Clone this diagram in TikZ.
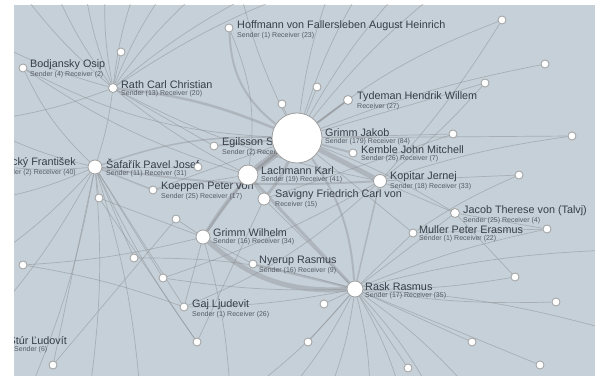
\documentclass[tikz,border=0pt]{standalone}
\usepackage{fontspec}
\setmainfont{Liberation Sans}
\usetikzlibrary{positioning}

\definecolor{canvas}{RGB}{197,208,216}
\definecolor{edgegray}{RGB}{140,142,146}
\definecolor{labeltext}{RGB}{55,62,74}

\pgfdeclarelayer{paper}
\pgfdeclarelayer{edges}
\pgfsetlayers{paper,edges,main}

\tikzset{
  person/.style={circle, draw=gray!75, fill=white, line width=0.8pt, inner sep=0pt, minimum size=8pt},
  hub/.style={person, minimum size=#1},
  nametag/.style={anchor=west, font=\fontsize{10.8}{11}\selectfont, text=labeltext, inner sep=0pt},
  counts/.style={anchor=north west, font=\fontsize{7}{7}\selectfont, text=labeltext!85, inner sep=0pt, yshift=-1.2pt},
  link/.style={draw=edgegray, opacity=0.5, line width=0.7pt},
  strong/.style={draw=edgegray, opacity=0.4, line width=#1},
}

\begin{document}
\begin{tikzpicture}[x=1pt, y=-1pt]

\useasboundingbox (0,0) rectangle (600,379);

% Paper and canvas
\begin{pgfonlayer}{paper}
\fill[white] (0,0) rectangle (600,379);
\fill[canvas] (14,5) rectangle (595,376);
\end{pgfonlayer}

\begin{scope}
\clip (14,5) rectangle (595,376);

% Labels
\node[nametag] (hoffmannL) at (237,26) {Hoffmann von Fallersleben August Heinrich};
\node[counts] at (hoffmannL.south west) {Sender (1) Receiver (23)};
\node[nametag] (bodjanskyL) at (30,65) {Bodjansky Osip};
\node[counts] at (bodjanskyL.south west) {Sender (4) Receiver (2)};
\node[nametag] (rathL) at (121,85) {Rath Carl Christian};
\node[counts] at (rathL.south west) {Sender (13) Receiver (20)};
\node[nametag] (tydemanL) at (357,97) {Tydeman Hendrik Willem};
\node[counts] at (tydemanL.south west) {Receiver (27)};
\node[nametag] (egilssonL) at (222,143) {Egilsson Sveinbjörn};
\node[counts] at (egilssonL.south west) {Sender (2) Receiver (4)};
\node[nametag] (gjakobL) at (325,133) {Grimm Jakob};
\node[counts] at (gjakobL.south west) {Sender (179) Receiver (84)};
\node[nametag] (kembleL) at (361,150) {Kemble John Mitchell};
\node[counts] at (kembleL.south west) {Sender (26) Receiver (7)};
\node[nametag, anchor=east] (palackyL) at (76,163) {Palacký František};
\node[counts, anchor=north east] at (palackyL.south east) {Sender (2) Receiver (40)};
\node[nametag] (safarikL) at (106,164) {Šafařík Pavel Josef};
\node[counts] at (safarikL.south west) {Sender (11) Receiver (31)};
\node[nametag] (lachmannL) at (261,171) {Lachmann Karl};
\node[counts] at (lachmannL.south west) {Sender (19) Receiver (41)};
\node[nametag] (kopitarL) at (390,177) {Kopitar Jernej};
\node[counts] at (kopitarL.south west) {Sender (18) Receiver (33)};
\node[nametag] (koeppenL) at (161,187) {Koeppen Peter von};
\node[counts] at (koeppenL.south west) {Sender (25) Receiver (17)};
\node[nametag] (savignyL) at (275,195) {Savigny Friedrich Carl von};
\node[counts] at (savignyL.south west) {Receiver (15)};
\node[nametag] (jacobL) at (463,211) {Jacob Therese von (Talvj)};
\node[counts] at (jacobL.south west) {Sender (25) Receiver (4)};
\node[nametag] (mullerL) at (419,230) {Muller Peter Erasmus};
\node[counts] at (mullerL.south west) {Sender (1) Receiver (22)};
\node[nametag] (gwilhelmL) at (213,233) {Grimm Wilhelm};
\node[counts] at (gwilhelmL.south west) {Sender (16) Receiver (34)};
\node[nametag] (nyerupL) at (259,261) {Nyerup Rasmus};
\node[counts] at (nyerupL.south west) {Sender (16) Receiver (9)};
\node[nametag] (raskL) at (365,287) {Rask Rasmus};
\node[counts] at (raskL.south west) {Sender (17) Receiver (35)};
\node[nametag] (gajL) at (192,305) {Gaj Ljudevit};
\node[counts] at (gajL.south west) {Sender (1) Receiver (26)};
\node[nametag, anchor=east] (sturL) at (67,340) {Štúr Ľudovít};
\node[counts, anchor=north west] at (14,345) {Sender (6)};

% Correspondents (hubs)
\node[hub=50pt] (gjakob) at (297,138) {};
\node[hub=20pt] (lachmann) at (248,175) {};
\node[hub=13pt] (kopitar) at (380,181) {};
\node[hub=12pt] (savigny) at (264,199) {};
\node[hub=14pt] (gwilhelm) at (203,237) {};
\node[hub=16pt] (rask) at (355,289) {};
\node[hub=14pt] (safarik) at (95,167) {};
\node[hub=9pt] (rath) at (113,88) {};
\node[hub=9pt] (tydeman) at (348,100) {};
\node[hub=9pt] (jacob) at (455,213) {};

% Correspondents (small)
\node[person] (bodjansky) at (23,68) {};
\node[person] (hoffmann) at (229,28) {};
\node[person] (egilsson) at (214,146) {};
\node[person] (kemble) at (353,153) {};
\node[person] (koeppen) at (153,190) {};
\node[person] (muller) at (413,233) {};
\node[person] (nyerup) at (253,264) {};
\node[person] (gaj) at (184,307) {};

% Unlabelled correspondents
\foreach \i/\x/\y in {1/121/52, 2/282/104, 3/317/87, 4/485/83, 5/545/64,
    6/502/20, 7/453/134, 8/572/136, 9/519/175, 10/198/167, 11/99/198,
    12/176/219, 13/547/229, 14/23/265, 15/134/258, 16/163/278, 17/515/277,
    18/556/302, 19/324/304, 20/197/342, 21/308/342, 22/472/342, 23/408/368,
    24/540/365, 25/53/365}
  \node[person] (s\i) at (\x,\y) {};
\end{scope}

% Edges, behind the nodes
\begin{pgfonlayer}{edges}
\begin{scope}
\clip (14,5) rectangle (595,376);

% points outside the frame
\foreach \i/\x/\y in {1/20/-10, 2/55/-10, 3/85/-10, 4/105/-10, 5/135/-10,
    6/165/-10, 7/200/-10, 8/260/-10, 9/300/-10, 10/-10/40, 11/-10/120,
    12/-10/130, 13/-10/165, 14/-10/200, 15/-10/260, 16/-10/320, 17/30/390,
    18/90/390, 19/140/390, 20/250/390, 21/290/390, 22/330/390, 23/370/390,
    24/400/390, 25/430/390, 26/470/390, 27/240/-10, 28/330/-10, 29/360/-10,
    30/400/-10, 31/440/-10, 32/230/390, 33/610/250, 34/610/330}
  \coordinate (out\i) at (\x,\y);

\foreach \a/\i in {rath/1, rath/2, rath/3, rath/4, rath/5, rath/6, rath/7,
    rath/8, rath/9, rath/10, rath/11, safarik/12, safarik/13, safarik/14,
    safarik/15, safarik/16, safarik/17, safarik/18, safarik/19, rask/20,
    rask/21, rask/22, rask/23, rask/24, rask/25, rask/26, gjakob/27,
    gjakob/28, gjakob/29, gjakob/30, gjakob/31, gwilhelm/32, rask/33, rask/34}
  \draw[link] (\a) to[bend left=6] (out\i);

% heavy exchanges
\draw[strong=7pt] (gjakob) -- (lachmann);
\draw[strong=5pt] (gjakob) -- (kopitar);
\draw[strong=3pt] (gjakob) to[bend left=8] (savigny);
\draw[strong=3pt] (gjakob) to[bend right=10] (gwilhelm);
\draw[strong=5pt] (gwilhelm) to[bend right=22] (rask);
\draw[strong=3pt] (lachmann) -- (rask);
\draw[strong=2.5pt] (rath) to[bend left=8] (gjakob);
\draw[strong=2pt] (hoffmann) to[bend right=25] (gjakob);
\draw[strong=2pt] (gjakob) -- (tydeman);
\draw[strong=2pt] (safarik) to[bend right=6] (kopitar);
\draw[strong=2pt] (gjakob) -- (egilsson);
\draw[strong=2pt] (gjakob) -- (kemble);
\draw[strong=2pt] (gjakob) to[bend left=15] (rask);
\draw[strong=2pt] (lachmann) -- (gwilhelm);
\draw[strong=2pt] (rask) -- (nyerup);
\draw[strong=1.5pt] (safarik) -- (koeppen);
\draw[strong=1.5pt] (safarik) to[bend left=10] (gjakob);
\draw[strong=1.5pt] (kopitar) -- (rask);

% single letters
\foreach \a/\b/\c in {rath/safarik/5, rath/s1/0, rath/lachmann/-5,
    rath/egilsson/0, rath/kopitar/-8, bodjansky/safarik/-10,
    bodjansky/gjakob/-12, bodjansky/lachmann/-8, hoffmann/lachmann/15,
    gjakob/s2/0, gjakob/s3/0, gjakob/s4/0, gjakob/s5/5, gjakob/s6/8,
    gjakob/s7/0, gjakob/s8/0, gjakob/koeppen/0, gjakob/jacob/5,
    gjakob/muller/0, kopitar/s9/0, kopitar/s8/5, kopitar/gaj/10,
    kopitar/jacob/0, kopitar/s4/-5, kopitar/s6/-5, lachmann/savigny/0,
    lachmann/koeppen/0, gwilhelm/nyerup/0, gwilhelm/s12/0, gwilhelm/s11/0,
    gwilhelm/s14/5, gwilhelm/gaj/0, rask/muller/0, rask/jacob/0,
    rask/s17/-5, rask/s18/-5, rask/s19/0, rask/s21/0, rask/s22/0,
    rask/s23/0, rask/s24/0, rask/savigny/0, rask/s13/5, rask/gaj/5,
    rask/s16/5, safarik/s10/0, safarik/s11/0, safarik/s15/0,
    safarik/s16/0, safarik/s25/0, safarik/s20/-5, safarik/gaj/0,
    s25/s12/0, s20/s11/0, s14/gaj/5, s15/rask/8, muller/s13/0,
    jacob/s13/0, jacob/s17/0, s16/kopitar/-5, s20/savigny/0,
    tydeman/lachmann/0, savigny/s7/0, muller/s9/5}
  \draw[link] (\a) to[bend left=\c] (\b);
\end{scope}
\end{pgfonlayer}

\end{tikzpicture}
\end{document}
